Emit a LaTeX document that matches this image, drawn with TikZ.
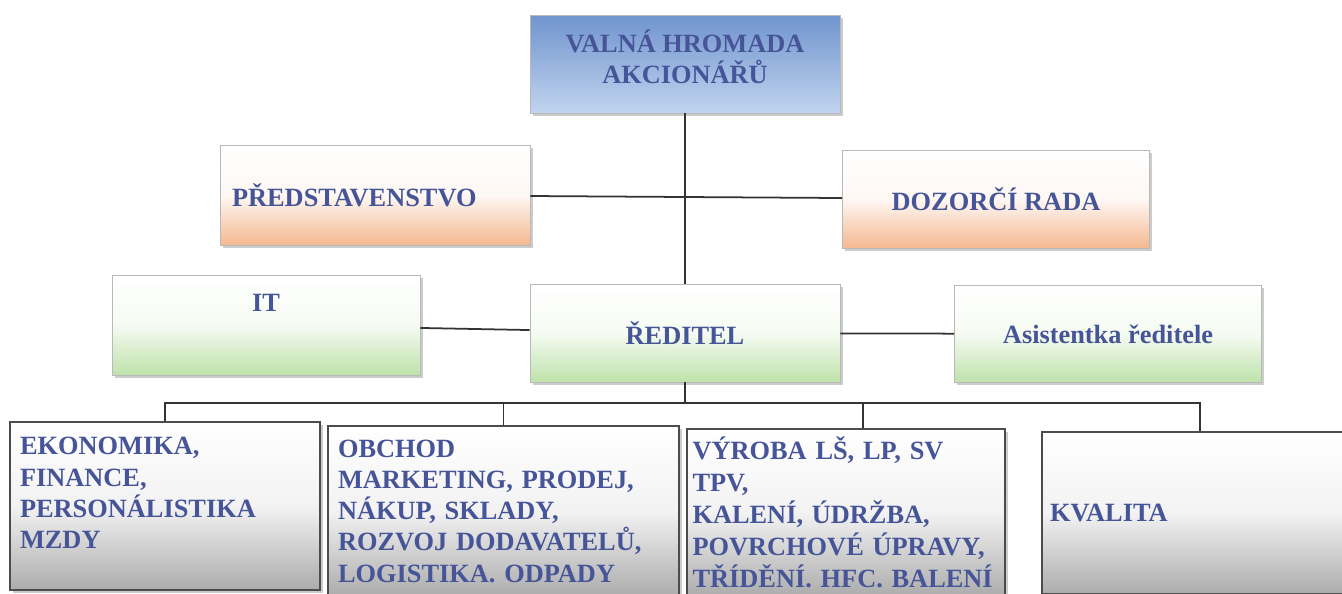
\documentclass[tikz,border=0pt]{standalone}
\usepackage{fontspec}
\setmainfont{Liberation Serif}
\usetikzlibrary{positioning, shadows}
\definecolor{txtblue}{RGB}{70,84,152}
\definecolor{valtop}{RGB}{112,148,206}
\definecolor{valbot}{RGB}{192,212,238}
\definecolor{orfill}{RGB}{245,184,144}
\definecolor{grfill}{RGB}{190,226,170}
\tikzset{
    box/.style={rectangle, draw=gray!55, inner sep=0pt, text=txtblue, font=\fontsize{15}{18}\selectfont\bfseries, drop shadow={shadow xshift=1.5pt, shadow yshift=-1.5pt, opacity=0.4}},
    valbox/.style={box, top color=valtop, bottom color=valbot, align=center},
    orbox/.style={box, top color=white, bottom color=orfill, middle color=white!90!orfill},
    grbox/.style={box, top color=white, bottom color=grfill, middle color=white!85!grfill},
    grybox/.style={box, draw=black!70, line width=0.8pt, top color=white, bottom color=gray!65, middle color=gray!10, align=left, font=\fontsize{15}{17.8}\selectfont\bfseries},
    conn/.style={draw=black!80, line width=1pt}
}
\begin{document}
\begin{tikzpicture}[x=0.02cm, y=-0.02cm]
    \useasboundingbox (0,0) rectangle (1342,593);
    % top
    \node[valbox, minimum width=6.2cm, minimum height=1.96cm, text depth=0.3cm] (valna) at (685,64) {VALNÁ HROMADA\\AKCIONÁŘŮ};
    % boards
    \node[orbox, minimum width=6.2cm, minimum height=2cm, text width=5.72cm, align=left] (pred) at (375,195) {PŘEDSTAVENSTVO};
    \node[orbox, minimum width=6.14cm, minimum height=1.96cm, align=center] (dozor) at (996,199) {DOZORČÍ RADA};
    % management
    \node[grbox, minimum width=6.16cm, minimum height=2cm, text depth=0.88cm] (it) at (266,325) {IT};
    \node[grbox, minimum width=6.2cm, minimum height=1.96cm] (red) at (685,333) {ŘEDITEL};
    \node[grbox, minimum width=6.14cm, minimum height=1.94cm] (asist) at (1108,334) {Asistentka ředitele};
    % departments
    \node[grybox, minimum width=6.2cm, minimum height=3.36cm, text width=5.8cm, text depth=2.4cm] (ekon) at (165,506) {EKONOMIKA,\\FINANCE,\\PERSONÁLISTIKA\\MZDY};
    \node[grybox, minimum width=7.02cm, minimum height=3.4cm, text width=6.62cm] (obch) at (503.5,511) {OBCHOD\\MARKETING, PRODEJ,\\NÁKUP, SKLADY,\\ROZVOJ DODAVATELŮ,\\LOGISTIKA. ODPADY};
    \node[grybox, minimum width=6.36cm, minimum height=3.34cm, text width=6.14cm, font=\fontsize{15}{18.2}\selectfont\bfseries] (vyr) at (846,512.5) {VÝROBA LŠ, LP, SV\\TPV,\\KALENÍ, ÚDRŽBA,\\POVRCHOVÉ ÚPRAVY,\\TŘÍDĚNÍ. HFC. BALENÍ};
    \node[grybox, minimum width=6.06cm, minimum height=3.24cm, text width=5.74cm] (kval) at (1193.5,513) {KVALITA};
    % lines
    \coordinate (bus) at (685,403);
    \draw[conn] (valna) -- (red);
    \draw[conn] (pred) -- (dozor);
    \draw[conn] (it) -- (red);
    \draw[conn] (red) -- (asist);
    \draw[conn] (red) -- (bus);
    \draw[conn] (ekon.north) |- (bus) -| ([xshift=0.13cm]kval.north);
    \draw[conn] (obch.north) |- (bus);
    \draw[conn] ([xshift=0.34cm]vyr.north) |- (bus);
\end{tikzpicture}
\end{document}
